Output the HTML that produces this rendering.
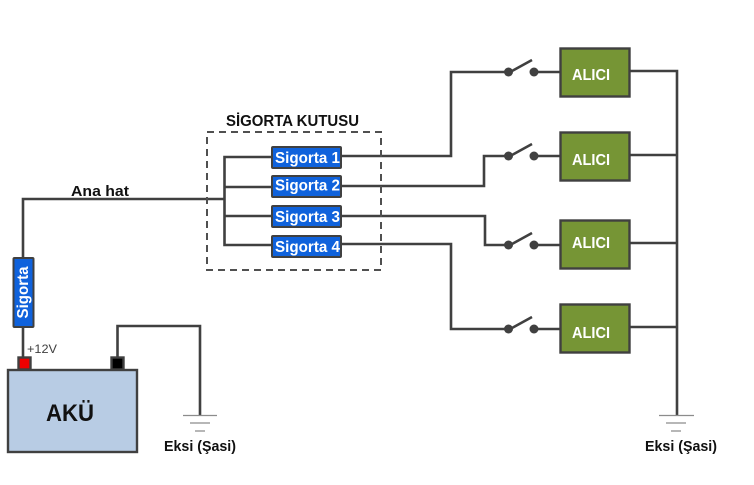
<!DOCTYPE html>
<html><head><meta charset="utf-8"><style>html,body{margin:0;padding:0;background:#fff}svg{display:block}text{font-family:"Liberation Sans",sans-serif;font-weight:bold}</style></head>
<body><svg width="754" height="485" viewBox="0 0 754 485" xmlns="http://www.w3.org/2000/svg">
<rect width="754" height="485" fill="#fff"/>
<g fill="none" stroke="#404040" stroke-width="2.6">
<path d="M23 258V199H224"/>
<path d="M23 327V358"/>
<path d="M117.500 358V326H200V416"/>
<path d="M271 157H224.500V245H271M224.500 187H271M224.500 216H271"/>
<path d="M342 156H451V72H505M342 186H484V156H505M342 216H485V245H505M342 244H451V329H505"/>
<path d="M534 72H560M534 156H560M534 245H560M534 329H560"/>
<path d="M629 71H677V416M629 155H677M629 243H677M629 327H677"/>
<path d="M512 71L532 60M512 155L532 144M512 244L532 233M512 328L532 317"/>
</g>
<rect x="207" y="132" width="174" height="138" fill="none" stroke="#505050" stroke-width="2" stroke-dasharray="7 5"/>
<g fill="#404040">
<circle cx="508.500" cy="72" r="4.500"/><circle cx="534" cy="72" r="4.500"/>
<circle cx="508.500" cy="156" r="4.500"/><circle cx="534" cy="156" r="4.500"/>
<circle cx="508.500" cy="245" r="4.500"/><circle cx="534" cy="245" r="4.500"/>
<circle cx="508.500" cy="329" r="4.500"/><circle cx="534" cy="329" r="4.500"/>
</g>
<g fill="#0f62dc" stroke="#404040" stroke-width="2">
<rect x="13.500" y="258" width="20" height="69" rx="1"/>
<rect x="272" y="147" width="69" height="21" rx="1"/>
<rect x="272" y="176" width="69" height="21" rx="1"/>
<rect x="272" y="206" width="69" height="21" rx="1"/>
<rect x="272" y="236" width="69" height="21" rx="1"/>
</g>
<g fill="#769535" stroke="#404040" stroke-width="2.400">
<rect x="560.500" y="48.500" width="69" height="48"/>
<rect x="560.500" y="132.500" width="69" height="48"/>
<rect x="560.500" y="220.500" width="69" height="48"/>
<rect x="560.500" y="304.500" width="69" height="48"/>
</g>
<rect x="8" y="370" width="129" height="82" fill="#b8cce4" stroke="#404040" stroke-width="2.400"/>
<rect x="18.500" y="357.500" width="12" height="12" fill="#f00000" stroke="#404040" stroke-width="2.400"/>
<rect x="111.500" y="357.500" width="12" height="12" fill="#000" stroke="#404040" stroke-width="2.400"/>
<g stroke="#8c8c8c" stroke-width="1.300" fill="none">
<path d="M183 415.500H217M190 423H210M195 431H205"/>
<path d="M659 415.500H694M666 423H686M671 431H681"/>
</g>
<g fill="#fff" font-size="16">
<text x="275" y="163" textLength="65" lengthAdjust="spacingAndGlyphs">Sigorta 1</text>
<text x="275" y="190.500" textLength="65" lengthAdjust="spacingAndGlyphs">Sigorta 2</text>
<text x="275" y="222" textLength="65" lengthAdjust="spacingAndGlyphs">Sigorta 3</text>
<text x="275" y="252" textLength="65" lengthAdjust="spacingAndGlyphs">Sigorta 4</text>
<text transform="translate(28,318.500) rotate(-90)" textLength="52" lengthAdjust="spacingAndGlyphs">Sigorta</text>
<text x="572" y="80" textLength="38" lengthAdjust="spacingAndGlyphs">ALICI</text>
<text x="572" y="165" textLength="38" lengthAdjust="spacingAndGlyphs">ALICI</text>
<text x="572" y="248" textLength="38" lengthAdjust="spacingAndGlyphs">ALICI</text>
<text x="572" y="338" textLength="38" lengthAdjust="spacingAndGlyphs">ALICI</text>
</g>
<g fill="#111">
<text x="226" y="126" font-size="16" textLength="133" lengthAdjust="spacingAndGlyphs">SİGORTA KUTUSU</text>
<text x="71" y="196" font-size="15" textLength="58" lengthAdjust="spacingAndGlyphs">Ana hat</text>
<text x="46" y="421" font-size="24" textLength="48" lengthAdjust="spacingAndGlyphs">AKÜ</text>
<text x="164" y="451" font-size="15" textLength="72" lengthAdjust="spacingAndGlyphs">Eksi (Şasi)</text>
<text x="645" y="451" font-size="15" textLength="72" lengthAdjust="spacingAndGlyphs">Eksi (Şasi)</text>
</g>
<text x="27" y="353" font-size="12" fill="#404040" style="font-weight:normal" textLength="30" lengthAdjust="spacingAndGlyphs">+12V</text>
</svg></body></html>
